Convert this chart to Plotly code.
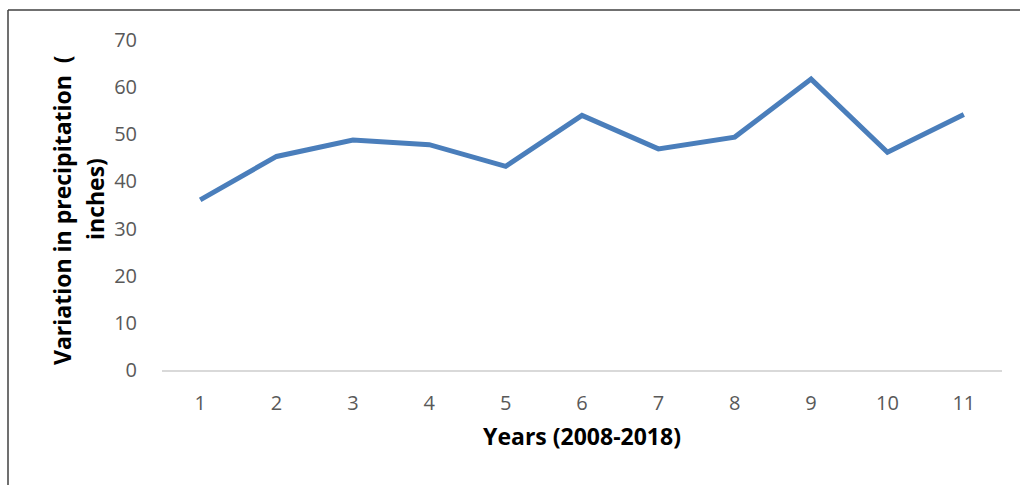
import plotly.graph_objects as go

years = ["1", "2", "3", "4", "5", "6", "7", "8", "9", "10", "11"]
precip = [36.1, 45.3, 48.8, 47.8, 43.2, 54.0, 46.9, 49.4, 61.7, 46.2, 54.2]
y_ticks = [0, 10, 20, 30, 40, 50, 60, 70]
y_title_lines = ["Variation in precipitation&nbsp;&nbsp;(", "inches)"]
x_title = "Years (2008-2018)"

FONT = "Open Sans"
W, H = 1020, 485
ml, mr, mt, mb = 162, 18, 40, 115
pw = W - ml - mr
ph = H - mt - mb


def px_x(v):
    return (v - ml) / pw


def px_y(v):
    return (H - mb - v) / ph


fig = go.Figure()
fig.add_trace(go.Scatter(
    x=years, y=precip, mode="lines",
    line=dict(color="#4a7ebb", width=5),
    showlegend=False,
))

fig.update_layout(
    width=W, height=H,
    margin=dict(l=ml, r=mr, t=mt, b=mb),
    paper_bgcolor="white", plot_bgcolor="white",
    font=dict(family=FONT, color="#595959", size=20),
    xaxis=dict(
        type="category", showgrid=False, zeroline=False,
        range=[-0.5, len(years) - 0.5],
        showline=True, linecolor="#d9d9d9", linewidth=2,
        ticks="outside", ticklen=14, tickcolor="rgba(0,0,0,0)",
        tickfont=dict(size=20, color="#595959"),
        title=dict(text="<b>" + x_title + "</b>",
                   font=dict(size=23, color="#000000"), standoff=14),
    ),
    yaxis=dict(
        range=[0, 70], tickvals=y_ticks, showgrid=False, zeroline=False,
        showline=False,
        ticks="outside", ticklen=20, tickcolor="rgba(0,0,0,0)",
        tickfont=dict(size=20, color="#595959"),
    ),
    annotations=[
        dict(text="<b>" + y_title_lines[0] + "</b>",
             textangle=-90, xref="paper", yref="paper",
             x=px_x(62), y=px_y(210),
             xanchor="center", yanchor="middle", showarrow=False,
             font=dict(size=23, color="#000000", family=FONT)),
        dict(text="<b>" + y_title_lines[1] + "</b>",
             textangle=-90, xref="paper", yref="paper",
             x=px_x(95), y=px_y(199),
             xanchor="center", yanchor="middle", showarrow=False,
             font=dict(size=23, color="#000000", family=FONT)),
    ],
    shapes=[
        dict(type="line", xref="paper", yref="paper",
             x0=px_x(8), x1=px_x(W + 5),
             y0=px_y(10), y1=px_y(10),
             line=dict(color="#404040", width=1.5)),
        dict(type="line", xref="paper", yref="paper",
             x0=px_x(8), x1=px_x(8),
             y0=px_y(10), y1=px_y(H + 5),
             line=dict(color="#404040", width=1.5)),
    ],
)

fig.write_html("out.html")
